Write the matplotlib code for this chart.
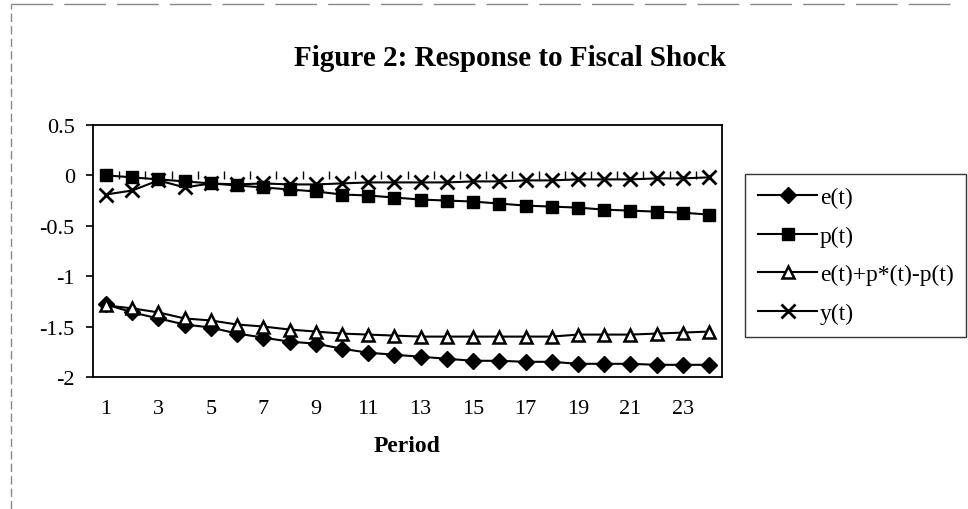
import matplotlib
matplotlib.use("Agg")
import matplotlib.pyplot as plt
from matplotlib.lines import Line2D
import numpy as np

# data
periods = list(range(1, 25))
e_t = [-1.28, -1.36, -1.42, -1.48, -1.51, -1.57, -1.61, -1.65, -1.67, -1.72, -1.76, -1.78,
       -1.80, -1.82, -1.84, -1.84, -1.85, -1.85, -1.87, -1.87, -1.87, -1.88, -1.88, -1.88]
p_t = [0.00, -0.02, -0.04, -0.06, -0.08, -0.10, -0.12, -0.14, -0.16, -0.19, -0.20, -0.22,
       -0.24, -0.25, -0.26, -0.28, -0.30, -0.31, -0.32, -0.34, -0.35, -0.36, -0.37, -0.39]
rer_t = [-1.29, -1.32, -1.36, -1.42, -1.44, -1.48, -1.50, -1.53, -1.55, -1.57, -1.58, -1.59,
         -1.60, -1.60, -1.60, -1.60, -1.60, -1.60, -1.58, -1.58, -1.58, -1.57, -1.56, -1.55]
y_t = [-0.19, -0.15, -0.05, -0.12, -0.08, -0.09, -0.08, -0.09, -0.09, -0.08, -0.07, -0.07,
       -0.07, -0.07, -0.06, -0.06, -0.05, -0.05, -0.04, -0.04, -0.04, -0.03, -0.03, -0.02]
xtick_labels = [str(p) for p in range(1, 24, 2)]
yticks = [0.5, 0, -0.5, -1, -1.5, -2]

plt.rcParams['font.family'] = ['Liberation Serif', 'DejaVu Serif']

fig = plt.figure(figsize=(9.68, 5.1), dpi=100)
ax = fig.add_axes([0.096, 0.259, 0.65, 0.494])

# the four impulse responses
ax.plot(periods, e_t, color='black', lw=1.5, marker='D', ms=8, mfc='black', mec='black', label='e(t)')
ax.plot(periods, p_t, color='black', lw=1.5, marker='s', ms=9, mfc='black', mec='black', label='p(t)')
ax.plot(periods, rer_t, color='black', lw=1.5, marker='^', ms=9, mfc='white', mec='black', mew=1.8,
        label='e(t)+p*(t)-p(t)')
ax.plot(periods, y_t, color='black', lw=1.5, marker='x', ms=10, mew=2, label='y(t)')

ax.set_xlim(0.5, 24.5)
ax.set_ylim(-2, 0.5)
ax.set_yticks(yticks)
ax.set_yticklabels(['0.5', '0', '-0.5', '-1', '-1.5', '-2'])
ax.set_xticks(range(1, 24, 2))
ax.set_xticklabels(xtick_labels)
ax.tick_params(axis='x', length=0, pad=16, labelsize=16)
ax.tick_params(axis='y', direction='out', length=5, width=1.2, labelsize=16, pad=8)
for s in ax.spines.values():
    s.set_linewidth(1.3)

# horizontal category axis crossing at zero, ticks between categories
sec = ax.secondary_xaxis(0.8)
sec.set_xticks(np.arange(1.5, 24.5, 1))
sec.tick_params(direction='inout', length=6, width=1, labelbottom=False, labeltop=False)
sec.spines['bottom'].set_linewidth(1.2)
sec.spines['top'].set_visible(False)

ax.set_xlabel('Period', fontsize=17, fontweight='bold', labelpad=12)
fig.text(0.527, 0.885, 'Figure 2: Response to Fiscal Shock', ha='center', va='center',
         fontsize=21, fontweight='bold')

leg = fig.legend(loc='upper left', bbox_to_anchor=(0.77, 0.657), frameon=True, fancybox=False,
                 edgecolor='black', fontsize=17, handlelength=2.5, handletextpad=0.1,
                 labelspacing=0.72, borderpad=0.55, borderaxespad=0)
leg.get_frame().set_linewidth(1.0)

# chart area border (scanned, light)
fig.add_artist(Line2D([0.011, 0.011], [0.0, 0.99], transform=fig.transFigure, color='#888888', lw=1, ls=(0, (6, 3))))
fig.add_artist(Line2D([0.011, 0.99], [0.99, 0.99], transform=fig.transFigure, color='#888888', lw=1, ls=(0, (30, 8))))

fig.savefig('out.png', dpi=100)
